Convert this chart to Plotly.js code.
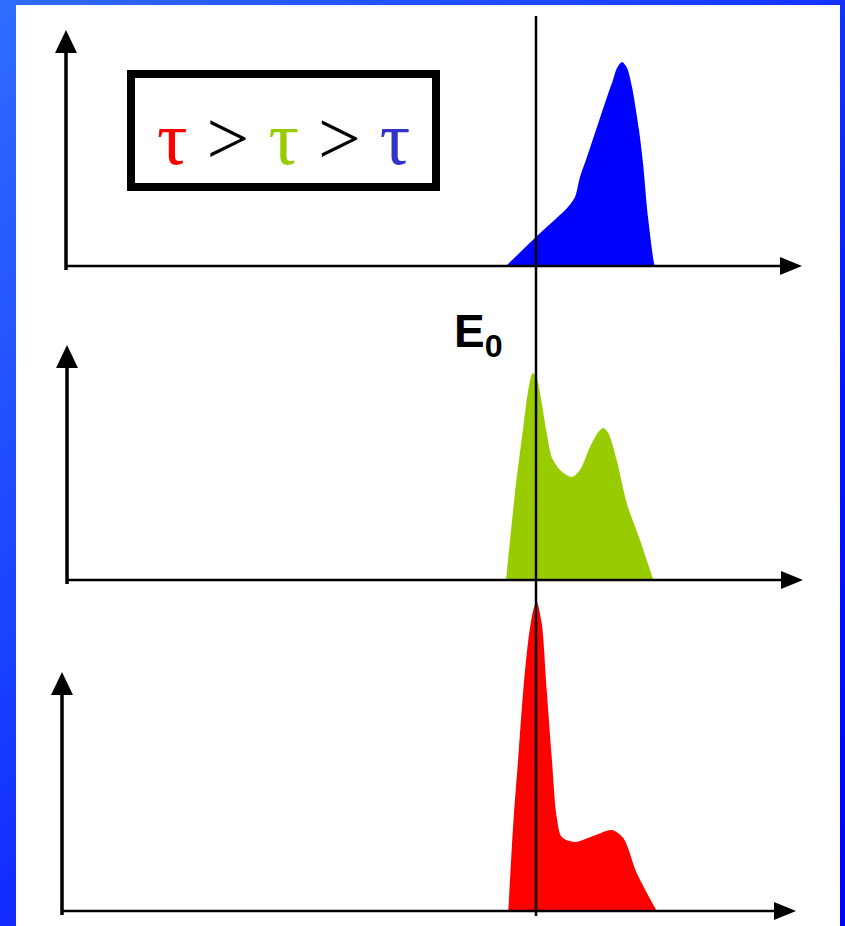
<!DOCTYPE html>
<html>
<head>
<meta charset="utf-8">
<script src="https://cdn.plot.ly/plotly-3.0.1.min.js"></script>
<style>
  html, body { margin: 0; padding: 0; }
  body {
    width: 845px; height: 926px; overflow: hidden;
    background: linear-gradient(135deg, #2f6cff 0%, #1a44ff 35%, #0812ff 70%, #0000ff 100%);
  }
  #chart { width: 845px; height: 926px; }
</style>
</head>
<body>
<div id="chart"></div>
<script>
// Energy relative to E0 (arb. units) and intensity (arb. units) for each decay time
const blueEnergy  = [-3.0, 0.0, 3.2, 3.9, 4.4, 5.1, 6.1, 7.1, 7.7, 8.1, 8.6, 9.1, 9.6, 10.3, 10.7, 11.2, 11.8, 11.9];
const blueSignal  = [0, 0.29, 0.59, 0.69, 0.89, 1.09, 1.39, 1.69, 1.86, 1.98, 2.04, 1.98, 1.79, 1.36, 1.03, 0.49, 0.03, 0];

const greenEnergy = [-3.0, -2.1, -1.27, -0.77, -0.33, 0.07, 0.57, 1.07, 1.57, 2.4, 3.57, 4.4, 5.4, 6.23, 6.73, 7.23, 8.07, 9.07, 10.4, 11.73];
const greenSignal = [0, 0.87, 1.53, 1.90, 2.07, 2.02, 1.77, 1.47, 1.23, 1.10, 1.03, 1.10, 1.33, 1.48, 1.52, 1.47, 1.20, 0.77, 0.40, 0];

const redEnergy   = [-2.77, -2.27, -1.77, -1.27, -0.77, -0.27, 0.07, 0.57, 1.07, 1.57, 2.07, 2.57, 3.9, 5.73, 7.57, 8.73, 10.07, 12.07];
const redSignal   = [0, 0.88, 1.54, 2.21, 2.71, 3.01, 3.09, 2.88, 2.21, 1.54, 0.94, 0.74, 0.69, 0.75, 0.81, 0.73, 0.38, 0];

const E0 = 0;
const legendColors = ['#ff0000', '#99cc00', '#3333cc'];

const W = 845, H = 926;
const px = x => x / W;          // pixel column -> paper x
const py = y => 1 - y / H;      // pixel row -> paper y

// Horizontal scale: 10 px per energy unit, E0 at column 536
const PX_PER_E = 10, E0_COL = 536;
const xRange = [(0 - E0_COL) / PX_PER_E, (W - E0_COL) / PX_PER_E];
// Vertical scale: 100 px per intensity unit
const PX_PER_I = 100;

// Panels: baseline row, plot height, y-axis column, arrow tip rows/cols
const panels = [
  { base: 266, h: 240, axisX: 66, tipY: 30,  tipX: 802 },
  { base: 580, h: 240, axisX: 67, tipY: 345, tipX: 803 },
  { base: 911, h: 320, axisX: 62, tipY: 672, tipX: 796 }
];

function spectrum(e, s, color, k) {
  return {
    type: 'scatter', mode: 'lines',
    x: e, y: s,
    xaxis: k === 0 ? 'x' : 'x' + (k + 1),
    yaxis: k === 0 ? 'y' : 'y' + (k + 1),
    line: { shape: 'spline', smoothing: 0.8, width: 0, color: color },
    fill: 'tozeroy', fillcolor: color,
    hoverinfo: 'skip', showlegend: false
  };
}

const data = [
  spectrum(blueEnergy, blueSignal, '#0000ff', 0),
  spectrum(greenEnergy, greenSignal, '#99cc00', 1),
  spectrum(redEnergy, redSignal, '#ff0000', 2)
];

const layout = {
  width: W, height: H,
  margin: { l: 0, r: 0, t: 0, b: 0, pad: 0 },
  paper_bgcolor: 'rgba(0,0,0,0)',
  plot_bgcolor: 'rgba(0,0,0,0)',
  showlegend: false,
  hovermode: false,
  shapes: [],
  annotations: []
};

panels.forEach((p, k) => {
  const sx = k === 0 ? '' : String(k + 1);
  layout['xaxis' + sx] = { domain: [0, 1], range: xRange, visible: false, fixedrange: true,
                           anchor: 'y' + sx };
  layout['yaxis' + sx] = { domain: [py(p.base), py(p.base - p.h)], range: [0, p.h / PX_PER_I],
                           visible: false, fixedrange: true, anchor: 'x' + sx };
});

// white page
layout.shapes.push({
  type: 'rect', xref: 'paper', yref: 'paper', layer: 'below',
  x0: px(16), x1: px(840), y0: py(5), y1: py(H + 2),
  fillcolor: '#ffffff', line: { width: 0 }
});

// axes with arrowheads
panels.forEach(p => {
  const ah = 23, hw = 11, rh = 22, rw = 9;
  layout.shapes.push({
    type: 'line', xref: 'paper', yref: 'paper',
    x0: px(p.axisX), x1: px(p.axisX), y0: py(p.base + 4), y1: py(p.tipY + ah - 1),
    line: { color: '#000', width: 3.5 }
  });
  layout.shapes.push({
    type: 'path', xref: 'paper', yref: 'paper',
    path: `M ${px(p.axisX)} ${py(p.tipY)} L ${px(p.axisX - hw)} ${py(p.tipY + ah)} L ${px(p.axisX + hw)} ${py(p.tipY + ah)} Z`,
    fillcolor: '#000', line: { width: 0 }
  });
  layout.shapes.push({
    type: 'line', xref: 'paper', yref: 'paper',
    x0: px(p.axisX), x1: px(p.tipX - rh + 1), y0: py(p.base), y1: py(p.base),
    line: { color: '#000', width: 2.5 }
  });
  layout.shapes.push({
    type: 'path', xref: 'paper', yref: 'paper',
    path: `M ${px(p.tipX)} ${py(p.base)} L ${px(p.tipX - rh)} ${py(p.base - rw)} L ${px(p.tipX - rh)} ${py(p.base + rw)} Z`,
    fillcolor: '#000', line: { width: 0 }
  });
});

// E0 marker line through all panels
layout.shapes.push({
  type: 'line', xref: 'x', yref: 'paper',
  x0: E0, x1: E0, y0: py(916), y1: py(16),
  line: { color: '#000', width: 2.5 }
});

// ordering box
layout.shapes.push({
  type: 'rect', xref: 'paper', yref: 'paper',
  x0: px(131), x1: px(436), y0: py(74), y1: py(187),
  fillcolor: '#ffffff', line: { color: '#000', width: 8 }
});

const tau = c => `<span style="color:${c}">τ</span>`;
layout.annotations.push({
  xref: 'paper', yref: 'paper', x: px(283), y: py(138),
  xanchor: 'center', yanchor: 'middle', showarrow: false,
  text: `${tau(legendColors[0])} &gt; ${tau(legendColors[1])} &gt; ${tau(legendColors[2])}`,
  font: { family: 'Liberation Serif, DejaVu Serif, serif', size: 76, color: '#000' }
});

layout.annotations.push({
  xref: 'paper', yref: 'paper', x: px(452), y: py(334),
  xanchor: 'left', yanchor: 'middle', showarrow: false,
  text: '<b>E<sub>0</sub></b>',
  font: { family: 'Liberation Sans, Arial, sans-serif', size: 46, color: '#000' }
});

Plotly.newPlot('chart', data, layout, { staticPlot: true, displayModeBar: false });
</script>
</body>
</html>
